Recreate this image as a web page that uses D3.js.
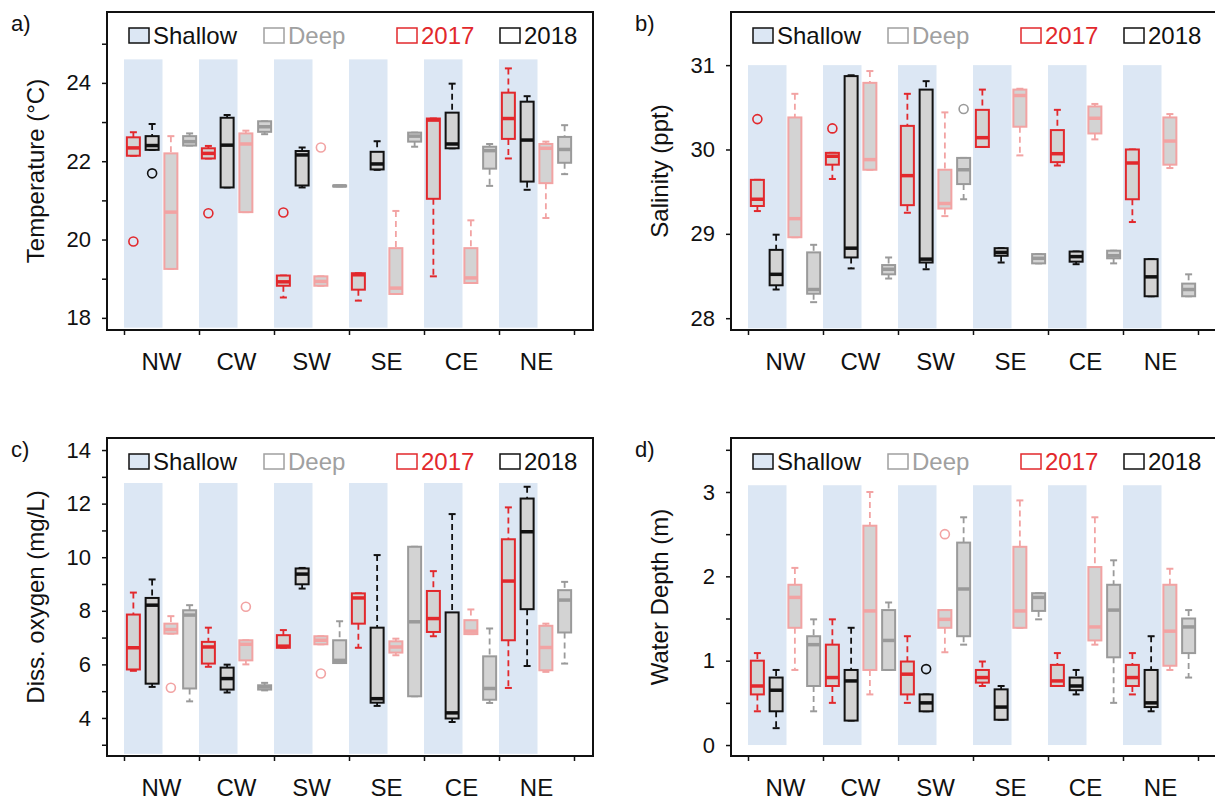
<!DOCTYPE html>
<html>
<head>
<meta charset="utf-8">
<script src="https://cdn.jsdelivr.net/npm/d3@7"></script>
<style>
body { margin: 0; background: #fff; }
text { font-family: "Liberation Sans", Arial, sans-serif; }
</style>
</head>
<body>
<div id="chart"></div>
<script>
const sites = ["NW", "CW", "SW", "SE", "CE", "NE"];
const seriesColors = ["#e2282c", "#111111", "#f2a3a3", "#9a9a9a"]; // shallow 2017, shallow 2018, deep 2017, deep 2018

// each row: [low whisker, q1, median, q3, high whisker], one row per site
const tempS17 = [[22.14,22.14,22.34,22.61,22.74],[22.07,22.07,22.2,22.33,22.39],[18.52,18.82,18.92,19.08,19.08],[18.44,18.72,19.1,19.14,19.14],[19.06,21.04,23.05,23.09,23.09],[22.07,22.57,23.09,23.75,24.37]];
const tempS18 = [[22.29,22.29,22.4,22.64,22.95],[21.33,21.33,22.41,23.11,23.18],[21.33,21.38,22.16,22.26,22.35],[21.78,21.79,21.93,22.24,22.51],[22.33,22.33,22.44,23.24,23.98],[21.27,21.48,22.54,23.52,23.66]];
const tempD17 = [[19.25,19.25,20.7,22.2,22.64],[20.7,20.7,22.44,22.71,22.78],[18.82,18.82,18.93,19.06,19.06],[18.61,18.61,18.76,19.78,20.73],[18.89,18.89,19.02,19.78,20.49],[20.55,21.44,22.33,22.44,22.5]];
const tempD18 = [[22.4,22.4,22.5,22.64,22.71],[22.69,22.75,22.88,23.02,23.02],[21.36,21.36,21.37,21.38,21.38],[22.37,22.5,22.64,22.73,22.73],[21.37,21.81,22.27,22.37,22.44],[21.67,21.96,22.3,22.62,22.92]];
// outliers: [site index, series index, value]
const tempOut = [[0,0,19.95],[0,1,21.69],[1,0,20.67],[2,0,20.69],[2,2,22.35]];

const salS17 = [[29.27,29.33,29.41,29.64,29.64],[29.65,29.82,29.92,29.96,29.96],[29.25,29.34,29.69,30.28,30.66],[30.03,30.03,30.14,30.47,30.71],[29.81,29.85,29.95,30.23,30.47],[29.14,29.41,29.84,30.0,30.0]];
const salS18 = [[28.34,28.39,28.52,28.81,28.99],[28.59,28.72,28.83,30.87,30.88],[28.58,28.66,28.7,30.71,30.81],[28.66,28.74,28.78,28.83,28.83],[28.64,28.67,28.73,28.79,28.79],[28.26,28.26,28.49,28.7,28.7]];
const salD17 = [[28.96,28.96,29.18,30.38,30.66],[29.76,29.76,29.88,30.79,30.93],[29.21,29.3,29.36,29.76,30.44],[29.93,30.27,30.64,30.71,30.72],[30.12,30.19,30.37,30.51,30.54],[29.78,29.82,30.1,30.38,30.42]];
const salD18 = [[28.19,28.29,28.34,28.78,28.87],[28.47,28.52,28.58,28.63,28.72],[29.41,29.59,29.76,29.9,29.9],[28.65,28.65,28.71,28.76,28.76],[28.65,28.71,28.74,28.8,28.8],[28.26,28.26,28.34,28.41,28.52]];
const salOut = [[0,0,30.36],[1,0,30.25],[2,3,30.48]];

const doS17 = [[5.76,5.81,6.62,7.86,8.68],[5.91,6.03,6.65,6.84,7.37],[6.62,6.62,6.68,7.09,7.28],[6.62,7.52,8.48,8.65,8.65],[7.05,7.21,7.71,8.74,9.48],[5.12,6.9,9.11,10.67,11.86]];
const doS18 = [[5.16,5.28,8.21,8.48,9.17],[4.95,5.06,5.47,5.88,5.99],[8.83,8.99,9.37,9.58,9.6],[4.45,4.57,4.72,7.37,10.08],[3.85,3.98,4.19,7.94,11.61],[5.94,8.06,10.95,12.19,12.63]];
const doD17 = [[7.15,7.15,7.3,7.52,7.8],[6.0,6.15,6.75,6.9,6.9],[6.75,6.75,6.9,7.05,7.05],[6.34,6.44,6.65,6.86,6.96],[7.13,7.13,7.24,7.65,8.05],[5.72,5.78,6.63,7.44,7.52]];
const doD18 = [[4.62,5.1,7.84,8.02,8.21],[5.03,5.06,5.16,5.22,5.31],[6.05,6.05,6.15,6.9,7.61],[4.81,4.81,7.59,10.39,10.39],[4.56,4.68,5.1,6.3,7.34],[6.03,7.19,8.4,8.77,9.08]];
const doOut = [[0,2,5.13],[1,2,8.15],[2,2,5.66]];

const depS17 = [[0.4,0.6,0.7,1.0,1.09],[0.5,0.7,0.8,1.19,1.49],[0.5,0.6,0.84,0.99,1.29],[0.7,0.74,0.8,0.89,0.99],[0.7,0.7,0.76,0.95,1.09],[0.6,0.7,0.8,0.95,1.09]];
const depS18 = [[0.2,0.4,0.65,0.8,0.89],[0.29,0.29,0.76,0.89,1.39],[0.4,0.4,0.5,0.6,0.6],[0.3,0.3,0.45,0.66,0.7],[0.6,0.65,0.7,0.8,0.89],[0.4,0.45,0.5,0.89,1.29]];
const depD17 = [[0.89,1.39,1.75,1.9,2.1],[0.6,0.89,1.59,2.6,3.0],[1.1,1.39,1.49,1.6,1.6],[1.39,1.39,1.59,2.35,2.9],[1.19,1.24,1.4,2.11,2.7],[0.89,0.94,1.35,1.9,2.09]];
const depD18 = [[0.4,0.7,1.19,1.29,1.49],[0.89,0.89,1.24,1.6,1.69],[1.19,1.29,1.85,2.4,2.7],[1.49,1.59,1.75,1.8,1.8],[0.5,1.04,1.6,1.9,2.19],[0.8,1.09,1.4,1.5,1.6]];
const depOut = [[2,1,0.9],[2,2,2.5]];

const legendLabels = ["Shallow", "Deep", "2017", "2018"];

const panels = [
  { label: "a)", title: "Temperature (\u00B0C)", left: 107, top: 12, data: [tempS17, tempS18, tempD17, tempD18], out: tempOut,
    dom: [17.69, 25.81], major: [18, 20, 22, 24], minor: [19, 21, 23, 25], shade: [17.75, 24.6] },
  { label: "b)", title: "Salinity (ppt)", left: 731, top: 12, data: [salS17, salS18, salD17, salD18], out: salOut,
    dom: [27.86, 31.63], major: [28, 29, 30, 31], minor: [], shade: [27.88, 31.0] },
  { label: "c)", title: "Diss. oxygen (mg/L)", left: 107, top: 438, data: [doS17, doS18, doD17, doD18], out: doOut,
    dom: [2.58, 14.45], major: [4, 6, 8, 10, 12, 14], minor: [3, 5, 7, 9, 11, 13], shade: [2.66, 12.77] },
  { label: "d)", title: "Water Depth (m)", left: 731, top: 438, data: [depS17, depS18, depD17, depD18], out: depOut,
    dom: [-0.13, 3.64], major: [0, 1, 2, 3], minor: [0.5, 1.5, 2.5, 3.5], shade: [0, 3.08] }
];

const svg = d3.select("#chart").append("svg")
  .attr("width", 1215)
  .attr("height", 801);

const W = 486, H = 318;
const shadeColor = "#dce7f4";
const boxFill = "#d3d3d3";

function drawPanel(p) {
  const g = svg.append("g");
  const x = d3.scaleBand().domain(sites).range([p.left + 17, p.left + 467]);
  const xs = d3.scaleBand().domain(d3.range(4)).range([0, x.bandwidth()]);
  const y = d3.scaleLinear().domain(p.dom).range([p.top + H, p.top]);

  // blue bands behind the shallow boxes
  g.selectAll("rect.shade")
    .data(sites)
    .join("rect")
    .attr("class", "shade")
    .attr("x", d => x(d))
    .attr("width", xs.step() * 2 + 1)
    .attr("y", y(p.shade[1]))
    .attr("height", y(p.shade[0]) - y(p.shade[1]))
    .attr("fill", shadeColor);

  const boxes = [];
  p.data.forEach((arr, si) => arr.forEach((s, i) => {
    boxes.push({ site: sites[i], si: si, lo: s[0], q1: s[1], med: s[2], q3: s[3], hi: s[4] });
  }));
  const bw = 13, cw = 7;
  const cx = d => x(d.site) + xs(d.si) + xs.bandwidth() / 2;

  const bg = g.selectAll("g.box")
    .data(boxes)
    .join("g")
    .attr("class", "box")
    .attr("stroke", d => seriesColors[d.si])
    .attr("fill", "none");

  bg.append("line")
    .attr("x1", cx).attr("x2", cx)
    .attr("y1", d => y(d.hi)).attr("y2", d => y(d.q3))
    .attr("stroke-width", 1.8)
    .attr("stroke-dasharray", "6,4");
  bg.append("line")
    .attr("x1", cx).attr("x2", cx)
    .attr("y1", d => y(d.q1)).attr("y2", d => y(d.lo))
    .attr("stroke-width", 1.8)
    .attr("stroke-dasharray", "6,4");
  bg.append("line")
    .attr("x1", d => cx(d) - cw / 2).attr("x2", d => cx(d) + cw / 2)
    .attr("y1", d => y(d.hi)).attr("y2", d => y(d.hi))
    .attr("stroke-width", 2);
  bg.append("line")
    .attr("x1", d => cx(d) - cw / 2).attr("x2", d => cx(d) + cw / 2)
    .attr("y1", d => y(d.lo)).attr("y2", d => y(d.lo))
    .attr("stroke-width", 2);
  bg.append("rect")
    .attr("x", d => cx(d) - bw / 2)
    .attr("width", bw)
    .attr("y", d => y(d.q3))
    .attr("height", d => Math.max(1, y(d.q1) - y(d.q3)))
    .attr("fill", boxFill)
    .attr("stroke-width", 2);
  bg.append("line")
    .attr("x1", d => cx(d) - bw / 2).attr("x2", d => cx(d) + bw / 2)
    .attr("y1", d => y(d.med)).attr("y2", d => y(d.med))
    .attr("stroke-width", 3.5);

  g.selectAll("circle.out")
    .data(p.out)
    .join("circle")
    .attr("class", "out")
    .attr("cx", d => x(sites[d[0]]) + xs(d[1]) + xs.bandwidth() / 2)
    .attr("cy", d => y(d[2]))
    .attr("r", 4.5)
    .attr("fill", "none")
    .attr("stroke", d => seriesColors[d[1]])
    .attr("stroke-width", 1.6);

  // frame
  g.append("rect")
    .attr("x", p.left).attr("y", p.top)
    .attr("width", W).attr("height", H)
    .attr("fill", "none")
    .attr("stroke", "#111")
    .attr("stroke-width", 2);

  // y axis
  const yAxis = g.append("g")
    .attr("transform", "translate(" + p.left + ",0)")
    .call(d3.axisLeft(y).tickValues(p.major).tickSize(5).tickPadding(11).tickFormat(d3.format("d")));
  g.append("g")
    .attr("transform", "translate(" + p.left + ",0)")
    .call(d3.axisLeft(y).tickValues(p.minor).tickSize(5).tickFormat(""))
    .call(a => a.select(".domain").remove());
  yAxis.select(".domain").remove();
  yAxis.selectAll("text").attr("font-size", 22).attr("fill", "#111");
  g.selectAll(".tick line").attr("stroke", "#111").attr("stroke-width", 1.5);

  // x axis: ticks between sites, labels centred on sites
  const xb = d3.scaleLinear().domain([0, 6]).range([p.left + 17, p.left + 467]);
  g.append("g")
    .attr("transform", "translate(0," + (p.top + H) + ")")
    .call(d3.axisBottom(xb).ticks(7).tickSize(5).tickFormat(""))
    .call(a => a.select(".domain").remove())
    .selectAll(".tick line").attr("stroke", "#111").attr("stroke-width", 1.5);
  g.append("g")
    .attr("transform", "translate(0," + (p.top + H) + ")")
    .call(d3.axisBottom(x).tickSize(0).tickPadding(23))
    .call(a => a.select(".domain").remove())
    .selectAll("text").attr("font-size", 24).attr("fill", "#111");

  // axis title and panel label
  g.append("text")
    .attr("transform", "translate(" + (p.left - 72) + "," + (p.top + H / 2) + ") rotate(-90)")
    .attr("text-anchor", "middle")
    .attr("dominant-baseline", "central")
    .attr("font-size", 24)
    .attr("fill", "#111")
    .text(p.title);
  g.append("text")
    .attr("x", p.left - 96).attr("y", p.top + 19)
    .attr("font-size", 22)
    .attr("fill", "#111")
    .text(p.label);

  // legend
  const legFill = [shadeColor, "#fff", "#fff", "#fff"];
  const legColor = ["#111", "#a0a0a0", "#e2282c", "#111"];
  const legX = [22, 157, 290, 393];
  const lg = g.selectAll("g.leg")
    .data(legendLabels)
    .join("g")
    .attr("class", "leg")
    .attr("transform", (d, i) => "translate(" + (p.left + legX[i]) + "," + (p.top + 16) + ")");
  lg.append("rect")
    .attr("width", 20).attr("height", 15)
    .attr("fill", (d, i) => legFill[i])
    .attr("stroke", (d, i) => legColor[i])
    .attr("stroke-width", 1.5);
  lg.append("text")
    .attr("x", 24).attr("y", 16)
    .attr("font-size", 24)
    .attr("fill", (d, i) => legColor[i])
    .text(d => d);
}

panels.forEach(drawPanel);
</script>
</body>
</html>
